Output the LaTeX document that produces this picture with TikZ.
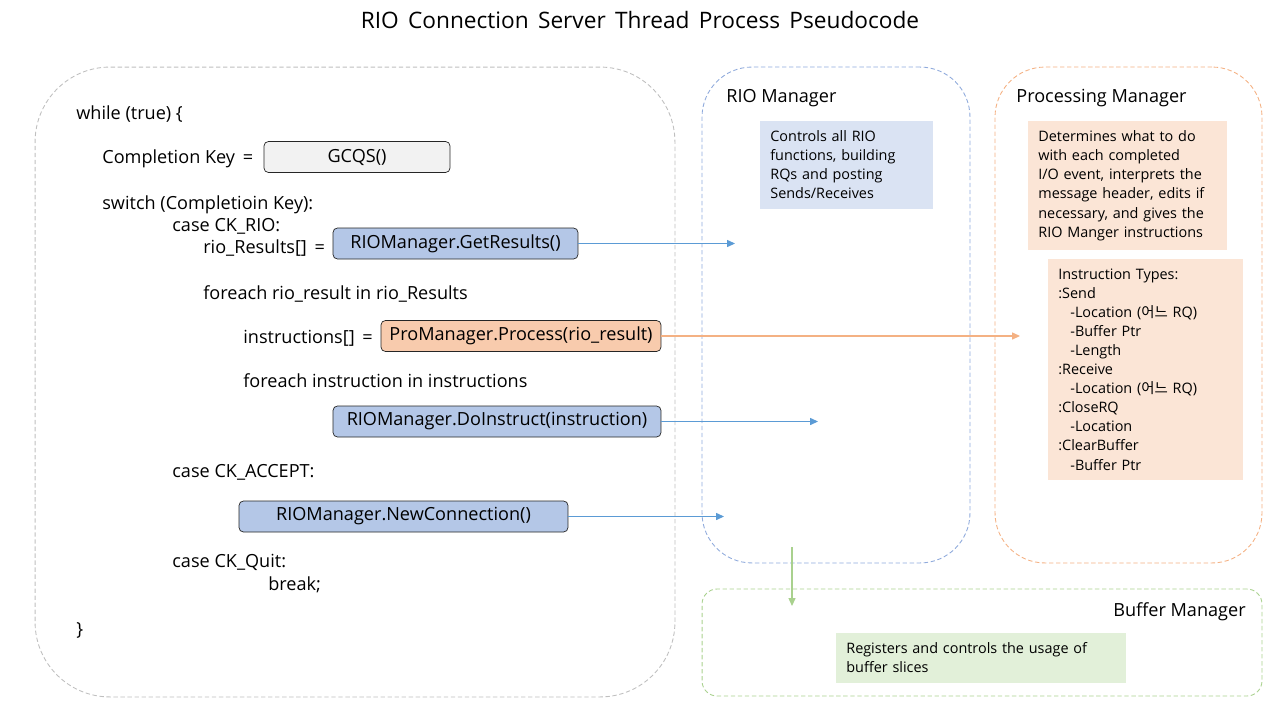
\documentclass[tikz,border=0pt]{standalone}
\usepackage{fontspec}
\setmainfont{Open Sans}
\newfontfamily\krfont{Noto Sans CJK KR}
\usepackage{tikz}
\usetikzlibrary{arrows.meta,positioning}

\definecolor{callgray}{HTML}{F2F2F2}
\definecolor{callblue}{HTML}{B4C7E7}
\definecolor{callorange}{HTML}{F8CBAD}
\definecolor{noteblue}{HTML}{DAE3F3}
\definecolor{noteorange}{HTML}{FBE5D6}
\definecolor{notegreen}{HTML}{E2F0D9}
\definecolor{lineblue}{HTML}{5B9BD5}
\definecolor{lineorange}{HTML}{F4B183}
\definecolor{linegreen}{HTML}{A9D18E}
\definecolor{framegray}{HTML}{BFBFBF}
\definecolor{frameblue}{HTML}{8FAADC}

\begin{document}
\begin{tikzpicture}[
    x=0.02cm, y=-0.02cm,
    code/.style={anchor=west, inner sep=0pt, text height=7.5pt, text depth=3.5pt, yshift=-1.7pt, font=\fontsize{10.3}{12}\selectfont},
    call/.style={rectangle, draw=black!85, rounded corners=2.5pt, minimum height=0.62cm, inner sep=0pt, font=\fontsize{10.3}{12}\selectfont},
    note/.style={anchor=north west, align=left, inner xsep=0.2cm, inner ysep=0.19cm, font=\fontsize{8.2}{10.85}\selectfont},
    mgrframe/.style={rectangle, dash pattern=on 2.5pt off 1.5pt, line width=0.5pt},
    flow/.style={-{Triangle[length=4.5pt, width=4pt]}, line width=0.6pt}
]
    \useasboundingbox (0,0) rectangle (1280,720);

    % Title
    \node[font=\fontsize{12.9}{15}\selectfont] (title) at (640,20) {\spaceskip=5.3pt plus 1pt RIO Connection Server Thread Process Pseudocode};

    % Frames
    \node[mgrframe, draw=framegray, rounded corners=1.5cm, minimum width=12.8cm, minimum height=12.6cm] (loop) at (355,382) {};
    \node[mgrframe, draw=frameblue, rounded corners=1cm, minimum width=5.36cm, minimum height=9.92cm] (riomgr) at (836,315) {};
    \node[mgrframe, draw=lineorange, rounded corners=1cm, minimum width=5.34cm, minimum height=9.92cm] (promgr) at (1128.5,315) {};
    \node[mgrframe, draw=linegreen, rounded corners=0.3cm, minimum width=11.2cm, minimum height=2.14cm] (bufmgr) at (982,642.5) {};

    % Pseudocode
    \node[code] (while) at (76,113) {while (true) \{};
    \node[code] (ckey) at (102,157) {Completion Key \,=};
    \node[call, fill=callgray, minimum width=3.72cm] (gcqs) at (357,157) {GCQS()};
    \node[code] (switch) at (102,203) {switch (Completioin Key):};
    \node[code] (ckrio) at (172,225) {case CK\_RIO:};
    \node[code] (results) at (203,247) {rio\_Results[] \,=};
    \node[call, fill=callblue, minimum width=4.9cm] (getres) at (455.5,243.5) {RIOManager.GetResults()};
    \node[code] (forres) at (203,293) {foreach rio\_result in rio\_Results};
    \node[code] (instr) at (243,337) {instructions[] \,=};
    \node[call, fill=callorange, minimum width=5.6cm] (process) at (521,336) {ProManager.Process(rio\_result)};
    \node[code] (forins) at (243,381) {foreach instruction in instructions};
    \node[call, fill=callblue, minimum width=6.56cm] (doinst) at (497,421.5) {RIOManager.DoInstruct(instruction)};
    \node[code] (ckaccept) at (172,471) {case CK\_ACCEPT:};
    \node[call, fill=callblue, minimum width=6.58cm] (newconn) at (403.5,516.5) {RIOManager.NewConnection()};
    \node[code] (ckquit) at (172,561) {case CK\_Quit:};
    \node[code] (break) at (268,584) {break;};
    \node[code] (close) at (76,629) {\}};

    % Managers
    \node[code] (riolabel) at (726,96) {RIO Manager};
    \node[note, fill=noteblue, text width=3.06cm] (rionote) at (760,121)
        {Controls all RIO\\functions, building\\RQs and posting\\Sends/Receives};
    \node[code] (prolabel) at (1016,96) {Processing Manager};
    \node[note, fill=noteorange, text width=3.58cm] (pronote) at (1028,121)
        {Determines what to do\\with each completed\\I/O event, interprets the\\message header, edits if\\necessary, and gives the\\RIO Manger instructions};
    \node[note, fill=noteorange, text width=3.5cm] (types) at (1048,259)
        {Instruction Types:\\:Send\\\hspace{0.24cm}-Location ({\krfont 어느} RQ)\\\hspace{0.24cm}-Buffer Ptr\\\hspace{0.24cm}-Length\\:Receive\\\hspace{0.24cm}-Location ({\krfont 어느} RQ)\\:CloseRQ\\\hspace{0.24cm}-Location\\:ClearBuffer\\\hspace{0.24cm}-Buffer Ptr\\[0.55em]};
    \node[code, anchor=east] (buflabel) at (1246,610) {Buffer Manager};
    \node[note, fill=notegreen, text width=5.4cm] (bufnote) at (836,633)
        {Registers and controls the usage of\\buffer slices};

    % Arrow ends
    \coordinate (getend) at (735,243.5);
    \coordinate (procend) at (1020,336);
    \coordinate (doend) at (818,421.5);
    \coordinate (newend) at (724,516.5);
    \coordinate (bufstart) at (792,547);
    \coordinate (bufend) at (792,606);

    % Connections
    \draw[flow, lineblue] (getres) -- (getend);
    \draw[flow, lineorange] (process) -- (procend);
    \draw[flow, lineblue] (doinst) -- (doend);
    \draw[flow, lineblue] (newconn) -- (newend);
    \draw[flow, linegreen] (bufstart) -- (bufend);
\end{tikzpicture}
\end{document}
